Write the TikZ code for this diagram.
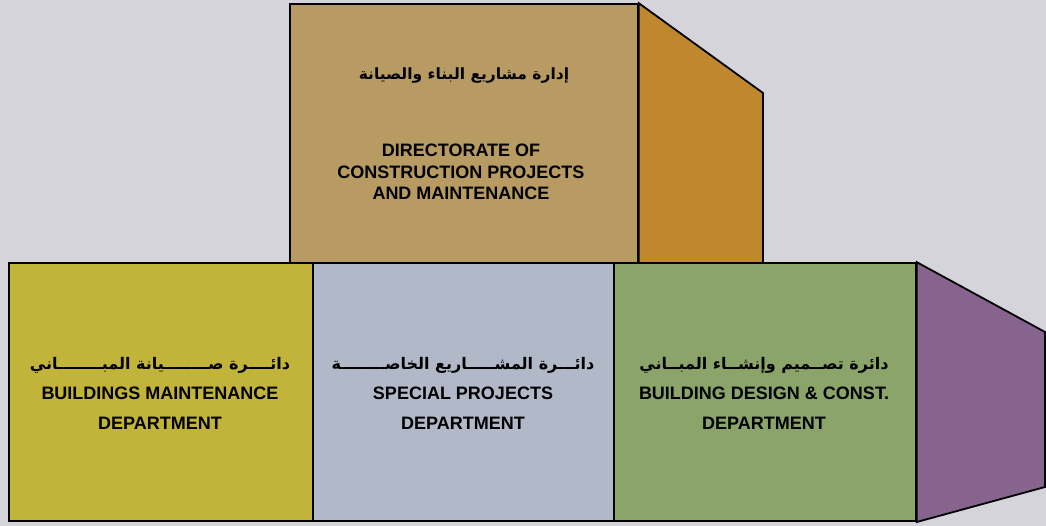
\documentclass[tikz,border=0pt]{standalone}
\usepackage{fontspec}
\setmainfont{Liberation Sans}
\newfontfamily\arabicfont[Script=Arabic]{DejaVu Sans}
\TeXXeTstate=1
\definecolor{bgc}{HTML}{D5D4DB}
\definecolor{topfront}{HTML}{B89B62}
\definecolor{topside}{HTML}{BF872E}
\definecolor{yellowbox}{HTML}{C2B43A}
\definecolor{bluebox}{HTML}{B1B9C9}
\definecolor{greenbox}{HTML}{8BA46A}
\definecolor{purpleside}{HTML}{86648D}
\tikzset{
  face/.style={draw=black, line width=1.8pt, line join=miter},
  boxnode/.style={face, rectangle, inner sep=0pt, anchor=south west},
  entext/.style={font=\bfseries\fontsize{18}{30}\selectfont, align=center, inner sep=0pt},
  artext/.style={font=\arabicfont\bfseries\fontsize{16}{20}\selectfont, inner sep=0pt},
}
\begin{document}
\begin{tikzpicture}[x=1pt,y=1pt]
\fill[bgc] (0,0) rectangle (1046,526);
\useasboundingbox (0,0) rectangle (1046,526);
% top box
\node[boxnode, fill=topfront, minimum width=348pt, minimum height=261pt] (top) at (289,260) {};
\coordinate (ts1) at (763,433);
\coordinate (ts2) at (763,260);
\filldraw[face, fill=topside] (top.north east) -- (ts1) -- (ts2) -- (top.south east) -- cycle;
% bottom row
\node[boxnode, fill=yellowbox, minimum width=304pt, minimum height=258pt] (b1) at (8,4) {};
\node[boxnode, fill=bluebox, minimum width=301pt, minimum height=258pt] (b2) at (312,4) {};
\node[boxnode, fill=greenbox, minimum width=302pt, minimum height=258pt] (b3) at (613,4) {};
\coordinate (ps1) at (1045,194);
\coordinate (ps2) at (1045,39);
\filldraw[face, fill=purpleside] (b3.north east) -- (ps1) -- (ps2) -- (b3.south east) -- cycle;
% texts
\node[artext, font=\arabicfont\bfseries\fontsize{15.5}{20}\selectfont] (topar) at (464,450) {\beginR إدارة مشاريع البناء والصيانة\endR};
\node[entext, font=\bfseries\fontsize{18}{21.5}\selectfont] (topen) at (461,354) {DIRECTORATE OF\\CONSTRUCTION PROJECTS\\AND MAINTENANCE};
\node[artext] (b1ar) at (160,161) {\beginR دائــــرة صــــــــيانة المبــــــــاني\endR};
\node[entext] (b1en) at (160,118) {BUILDINGS MAINTENANCE\\DEPARTMENT};
\node[artext] (b2ar) at (463,161) {\beginR دائـــرة المشـــــاريع الخاصــــــــة\endR};
\node[entext] (b2en) at (463,118) {SPECIAL PROJECTS\\DEPARTMENT};
\node[artext] (b3ar) at (764,161) {\beginR دائرة تصــميم وإنشــاء المبــاني\endR};
\node[entext] (b3en) at (764,118) {BUILDING DESIGN \& CONST.\\DEPARTMENT};
\end{tikzpicture}
\end{document}
